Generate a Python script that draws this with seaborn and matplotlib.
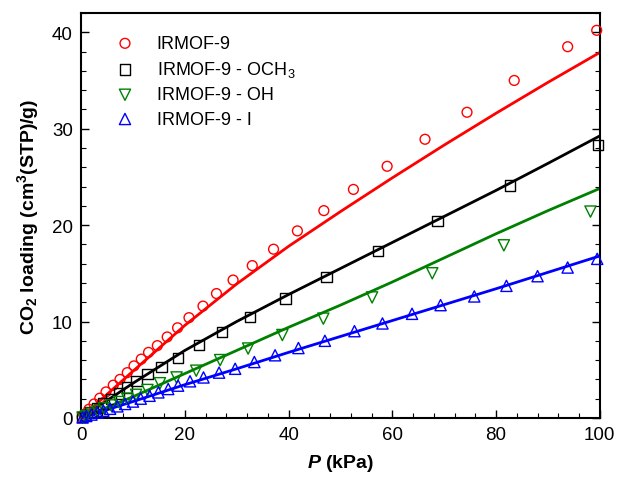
import numpy as np
import pandas as pd
import matplotlib
matplotlib.use('Agg')
import matplotlib.pyplot as plt
import seaborn as sns
from matplotlib.ticker import MultipleLocator

# donnees
p_irmof9 = [0.2, 0.7, 1.5, 2.5, 3.6, 4.8, 6.2, 7.5, 8.9, 10.2, 11.6, 13.0, 14.7, 16.6, 18.6, 20.8,
            23.5, 26.1, 29.3, 33.0, 37.1, 41.7, 46.8, 52.5, 59.0, 66.3, 74.4, 83.5, 93.8, 99.4]
q_irmof9 = [0.1, 0.4, 0.9, 1.45, 2.05, 2.7, 3.4, 4.0, 4.7, 5.4, 6.1, 6.8, 7.5, 8.4, 9.35, 10.4,
            11.6, 12.9, 14.3, 15.8, 17.5, 19.4, 21.5, 23.7, 26.1, 28.9, 31.7, 35.0, 38.5, 40.2]

p_och3 = [0.2, 0.8, 1.8, 3.0, 4.3, 5.8, 7.3, 8.9, 10.7, 12.8, 15.5, 18.7, 22.7, 27.2, 32.6, 39.4,
          47.3, 57.3, 68.7, 82.7, 99.6]
q_och3 = [0.1, 0.3, 0.65, 1.05, 1.5, 2.0, 2.55, 3.15, 3.85, 4.55, 5.3, 6.25, 7.55, 8.9, 10.45, 12.4,
          14.65, 17.3, 20.4, 24.1, 28.3]

p_oh = [0.3, 1.0, 2.0, 3.2, 4.4, 5.8, 7.3, 8.9, 10.6, 12.8, 15.2, 18.4, 22.2, 26.8, 32.2, 38.8,
        46.7, 56.1, 67.7, 81.5, 98.2]
q_oh = [0.05, 0.2, 0.45, 0.7, 1.0, 1.3, 1.65, 2.0, 2.4, 2.9, 3.6, 4.2, 4.9, 6.0, 7.2, 8.6,
        10.3, 12.5, 15.0, 17.9, 21.4]

p_i = [0.3, 1.0, 2.0, 3.1, 4.3, 5.6, 7.0, 8.5, 10.0, 11.5, 13.2, 14.9, 16.8, 18.7, 21.0, 23.6,
       26.6, 29.7, 33.4, 37.4, 41.9, 47.0, 52.7, 58.1, 63.8, 69.3, 75.8, 82.0, 88.0, 93.8, 99.5]
q_i = [0.05, 0.2, 0.35, 0.55, 0.75, 0.95, 1.2, 1.45, 1.7, 2.0, 2.3, 2.65, 3.0, 3.35, 3.8, 4.2,
       4.7, 5.1, 5.8, 6.5, 7.25, 8.0, 9.0, 9.8, 10.8, 11.7, 12.6, 13.7, 14.7, 15.6, 16.5]

# courbes simulees
p_fit = [0, 5, 10, 20, 30, 40, 50, 60, 70, 80, 90, 100]
fit_irmof9 = [0, 2.45, 4.85, 9.6, 13.9, 17.8, 21.4, 24.9, 28.3, 31.6, 34.8, 37.9]
fit_och3 = [0, 1.8, 3.6, 7.0, 10.0, 12.8, 15.5, 18.2, 20.9, 23.6, 26.4, 29.25]
fit_oh = [0, 1.1, 2.2, 4.6, 7.0, 9.4, 11.7, 14.1, 16.6, 19.1, 21.5, 23.8]
fit_i = [0, 0.85, 1.7, 3.45, 5.1, 6.8, 8.45, 10.1, 11.75, 13.4, 15.1, 16.8]

sns.set_style('ticks')
plt.rcParams['font.family'] = ['Liberation Sans', 'DejaVu Sans']
plt.rcParams['mathtext.fontset'] = 'custom'
plt.rcParams['mathtext.rm'] = 'Liberation Sans'
plt.rcParams['mathtext.it'] = 'Liberation Sans:italic'
plt.rcParams['mathtext.bf'] = 'Liberation Sans:bold'
plt.rcParams['mathtext.bfit'] = 'Liberation Sans:italic:bold'
plt.rcParams['mathtext.default'] = 'regular'
for k in ['text.color', 'axes.labelcolor', 'xtick.color', 'ytick.color', 'axes.edgecolor']:
    plt.rcParams[k] = 'black'

fig = plt.figure(figsize=(6.19, 4.81), dpi=100)
ax = fig.add_axes([0.131, 0.129, 0.838, 0.842])

series = [
    (p_irmof9, q_irmof9, fit_irmof9, 'red', 'o', 'IRMOF-9', 50),
    (p_och3, q_och3, fit_och3, 'black', 's', 'IRMOF-9 - OCH$_3$', 55),
    (p_oh, q_oh, fit_oh, 'green', 'v', 'IRMOF-9 - OH', 65),
    (p_i, q_i, fit_i, 'blue', '^', 'IRMOF-9 - I', 65),
]

for p, q, fit, col, mk, lab, s in series:
    sns.lineplot(x=p_fit, y=fit, color=col, linewidth=2.0, ax=ax, legend=False)
    sns.scatterplot(x=p, y=q, marker=mk, s=s, facecolor='none', edgecolor=col,
                    linewidth=1.0, label=lab, ax=ax, clip_on=False, zorder=3)

ax.set_xlim(0, 100)
ax.set_ylim(0, 42)
ax.xaxis.set_major_locator(MultipleLocator(20))
ax.xaxis.set_minor_locator(MultipleLocator(4))
ax.yaxis.set_major_locator(MultipleLocator(10))
ax.yaxis.set_minor_locator(MultipleLocator(2))
ax.tick_params(which='both', direction='in', right=True, top=False, labelsize=13.5, pad=6)
ax.tick_params(which='major', length=6, width=1)
ax.tick_params(which='minor', length=3.5, width=0.8)
for sp in ax.spines.values():
    sp.set_linewidth(1.5)

ax.set_xlabel('$\\mathbfit{P}$ (kPa)', fontsize=14, fontweight='bold', labelpad=6)
ax.set_ylabel('CO$_2$ loading (cm$^3$(STP)/g)', fontsize=14, fontweight='bold', labelpad=8)

ax.legend(loc='upper left', frameon=False, fontsize=13, handletextpad=0.75,
          labelspacing=0.4, borderaxespad=0.6, bbox_to_anchor=(0.015, 0.99))

fig.savefig('out.png', dpi=100)
